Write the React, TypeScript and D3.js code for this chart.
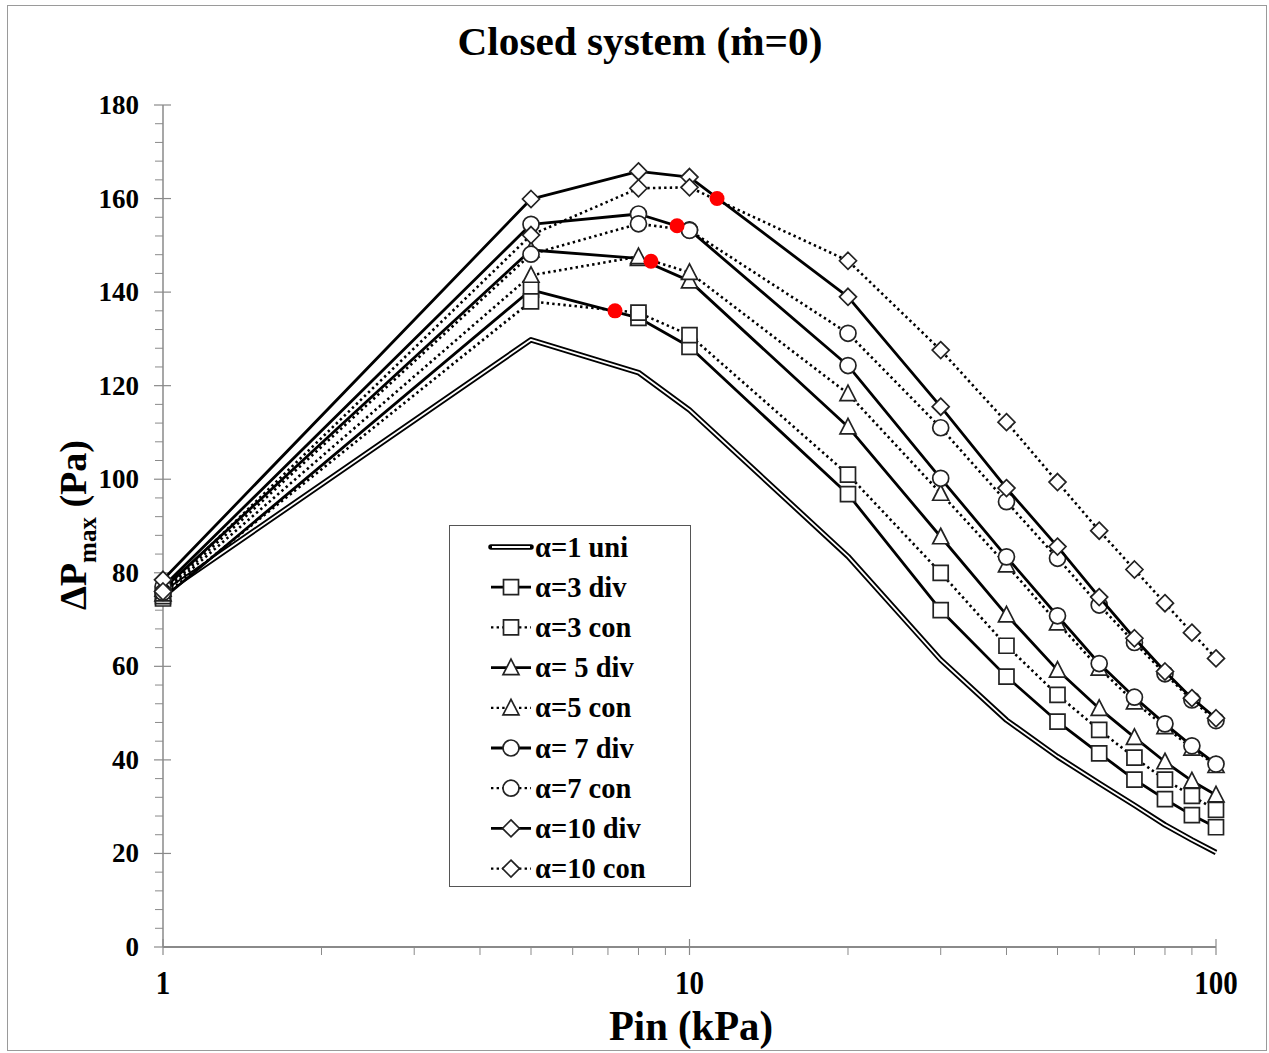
import React from "react";
import * as d3 from "d3";

// Inlet pressure (kPa) shared by every series
const pin = [1, 5, 8, 10, 20, 30, 40, 50, 60, 70, 80, 90, 100];

// Maximum pressure difference ΔPmax (Pa) for each configuration
const uni = [75.5, 129.8, 122.8, 114.8, 83.5, 61.4, 48.5, 40.7, 35.0, 30.3, 26.1, 22.9, 20.2];
const a3div = [74.5, 140.5, 134.5, 128.3, 96.8, 72.0, 57.8, 48.2, 41.4, 35.8, 31.6, 28.2, 25.6];
const a3con = [75.0, 138.0, 135.6, 130.8, 101.0, 80.0, 64.4, 53.9, 46.4, 40.5, 35.8, 32.3, 29.3];
const a5div = [76.5, 149.0, 147.2, 142.4, 111.2, 87.7, 71.0, 59.2, 51.0, 44.8, 39.6, 35.5, 32.5];
const a5con = [75.5, 143.6, 147.6, 144.2, 118.3, 97.0, 81.7, 69.3, 59.6, 52.4, 47.1, 42.5, 38.8];
const a7div = [77.0, 154.5, 156.7, 153.3, 124.3, 100.2, 83.4, 70.8, 60.6, 53.4, 47.7, 43.0, 39.1];
const a7con = [75.8, 148.1, 154.6, 153.2, 131.2, 111.0, 95.2, 83.1, 73.1, 65.1, 58.4, 52.8, 48.4];
const a10div = [78.5, 159.9, 165.8, 164.6, 139.0, 115.5, 98.1, 85.6, 74.8, 66.0, 58.9, 53.2, 48.9];
const a10con = [76.0, 152.2, 162.2, 162.4, 146.7, 127.6, 112.2, 99.4, 89.0, 80.7, 73.5, 67.2, 61.7];

// Peak locations highlighted in red
const peakPin = [7.22, 8.45, 9.47, 11.28];
const peakDP = [136.0, 146.6, 154.2, 160.0];

const yTicks = [0, 20, 40, 60, 80, 100, 120, 140, 160, 180];
const xTicks = [1, 10, 100];

type Marker = "none" | "square" | "triangle" | "circle" | "diamond";
type Series = { name: string; values: number[]; dotted: boolean; marker: Marker; double?: boolean };

const series: Series[] = [
  { name: "α=1 uni", values: uni, dotted: false, marker: "none", double: true },
  { name: "α=3 div", values: a3div, dotted: false, marker: "square" },
  { name: "α=3 con", values: a3con, dotted: true, marker: "square" },
  { name: "α= 5 div", values: a5div, dotted: false, marker: "triangle" },
  { name: "α=5 con", values: a5con, dotted: true, marker: "triangle" },
  { name: "α= 7 div", values: a7div, dotted: false, marker: "circle" },
  { name: "α=7 con", values: a7con, dotted: true, marker: "circle" },
  { name: "α=10 div", values: a10div, dotted: false, marker: "diamond" },
  { name: "α=10 con", values: a10con, dotted: true, marker: "diamond" },
];

const W = 1269;
const H = 1053;
const x = d3.scaleLog().domain([1, 100]).range([163, 1216]);
const y = d3.scaleLinear().domain([0, 180]).range([947, 105]);

const FONT = "'Liberation Serif', 'Times New Roman', serif";
const DOT = "2.4 3.2";

function markerPath(m: Marker): string {
  switch (m) {
    case "square":
      return "M-7.5,-7.5H7.5V7.5H-7.5Z";
    case "triangle":
      return "M0,-8.5L8,7L-8,7Z";
    case "circle":
      return "M8,0A8,8 0 1,1 -8,0A8,8 0 1,1 8,0Z";
    case "diamond":
      return "M0,-8.5L8.5,0L0,8.5L-8.5,0Z";
    default:
      return "";
  }
}

function MarkerShape({ m, cx, cy }: { m: Marker; cx: number; cy: number }) {
  if (m === "none") return null;
  return (
    <path
      d={markerPath(m)}
      transform={`translate(${cx},${cy})`}
      fill="#fff"
      stroke="#222"
      strokeWidth={1.7}
    />
  );
}

export default function App() {
  const line = d3
    .line<number>()
    .x((_, i) => x(pin[i]))
    .y((v) => y(v));

  const yMinor = d3.range(0, 181, 4).filter((v) => v % 20 !== 0);
  const xMinor = [2, 3, 4, 5, 6, 7, 8, 9, 20, 30, 40, 50, 60, 70, 80, 90];

  const legX = 449;
  const legY = 525;
  const legStep = 40.2;

  return (
    <svg
      width={W}
      height={H}
      style={{ position: "absolute", left: 0, top: 0, background: "#fff" }}
      fontFamily={FONT}
    >
      <rect x={0} y={0} width={W} height={H} fill="#fff" />
      <rect x={7.5} y={5.5} width={W - 10} height={H - 8} fill="none" stroke="#9a9a9a" strokeWidth={1} />

      {/* Title */}
      <text x={640} y={55} textAnchor="middle" fontSize={39} fontWeight="bold" textLength={365} lengthAdjust="spacingAndGlyphs">
        Closed system (ṁ=0)
      </text>

      {/* Y axis */}
      <line x1={163} x2={163} y1={y(180)} y2={y(0)} stroke="#8a8a8a" strokeWidth={1.5} />
      {yTicks.map((t) => (
        <g key={`yt${t}`}>
          <line x1={154} x2={171} y1={y(t)} y2={y(t)} stroke="#8a8a8a" strokeWidth={1.2} />
          <text x={139} y={y(t) + 9} textAnchor="end" fontSize={27} fontWeight="bold">
            {t}
          </text>
        </g>
      ))}
      {yMinor.map((t) => (
        <line key={`ym${t}`} x1={155} x2={163} y1={y(t)} y2={y(t)} stroke="#8a8a8a" strokeWidth={1} />
      ))}

      {/* X axis */}
      <line x1={x(1)} x2={x(100)} y1={947} y2={947} stroke="#8a8a8a" strokeWidth={2} />
      {xTicks.map((t) => (
        <g key={`xt${t}`}>
          <line x1={x(t)} x2={x(t)} y1={939} y2={955} stroke="#8a8a8a" strokeWidth={1.2} />
          <text
            x={x(t)}
            y={994}
            textAnchor="middle"
            fontSize={34}
            fontWeight="bold"
            textLength={String(t).length * 14.5}
            lengthAdjust="spacingAndGlyphs"
          >
            {t}
          </text>
        </g>
      ))}
      {xMinor.map((t) => (
        <line key={`xm${t}`} x1={x(t)} x2={x(t)} y1={947} y2={955} stroke="#8a8a8a" strokeWidth={1} />
      ))}

      {/* Axis titles */}
      <text x={691} y={1040} textAnchor="middle" fontSize={42} fontWeight="bold" textLength={164} lengthAdjust="spacingAndGlyphs">
        Pin (kPa)
      </text>
      <text transform="translate(86,525) rotate(-90)" textAnchor="middle" fontSize={38} fontWeight="bold">
        ΔP
        <tspan fontSize={25} dy={10}>max</tspan>
        <tspan dy={-10}> (Pa)</tspan>
      </text>

      {/* Series */}
      {series.map((s, si) => (
        <g key={`s${si}`}>
          {s.double ? (
            <>
              <path d={line(s.values) ?? ""} fill="none" stroke="#000" strokeWidth={5.5} strokeLinejoin="round" />
              <path d={line(s.values) ?? ""} fill="none" stroke="#fff" strokeWidth={1.8} strokeLinejoin="round" />
            </>
          ) : (
            <path
              d={line(s.values) ?? ""}
              fill="none"
              stroke="#000"
              strokeWidth={s.dotted ? 2.6 : 2.8}
              strokeDasharray={s.dotted ? DOT : undefined}
              strokeLinejoin="round"
            />
          )}
          {s.values.map((v, i) => (
            <MarkerShape key={i} m={s.marker} cx={x(pin[i])} cy={y(v)} />
          ))}
        </g>
      ))}

      {/* Peaks */}
      {peakPin.map((p, i) => (
        <circle key={`pk${i}`} cx={x(p)} cy={y(peakDP[i])} r={7.5} fill="#ff0000" />
      ))}

      {/* Legend */}
      <rect x={legX + 0.5} y={legY + 0.5} width={241} height={361} fill="#fff" stroke="#555" strokeWidth={1} />
      {series.map((s, i) => {
        const cy = legY + 22 + i * legStep;
        return (
          <g key={`lg${i}`}>
            {s.double ? (
              <>
                <line x1={491} x2={531} y1={cy} y2={cy} stroke="#000" strokeWidth={5.5} strokeLinecap="round" />
                <line x1={492} x2={530} y1={cy} y2={cy} stroke="#fff" strokeWidth={1.8} />
              </>
            ) : (
              <line
                x1={491}
                x2={531}
                y1={cy}
                y2={cy}
                stroke="#000"
                strokeWidth={s.dotted ? 2.2 : 2.8}
                strokeDasharray={s.dotted ? DOT : undefined}
              />
            )}
            <MarkerShape m={s.marker} cx={511} cy={cy} />
            <text x={535} y={cy + 9.5} fontSize={28.5} fontWeight="bold">
              {s.name}
            </text>
          </g>
        );
      })}
    </svg>
  );
}
